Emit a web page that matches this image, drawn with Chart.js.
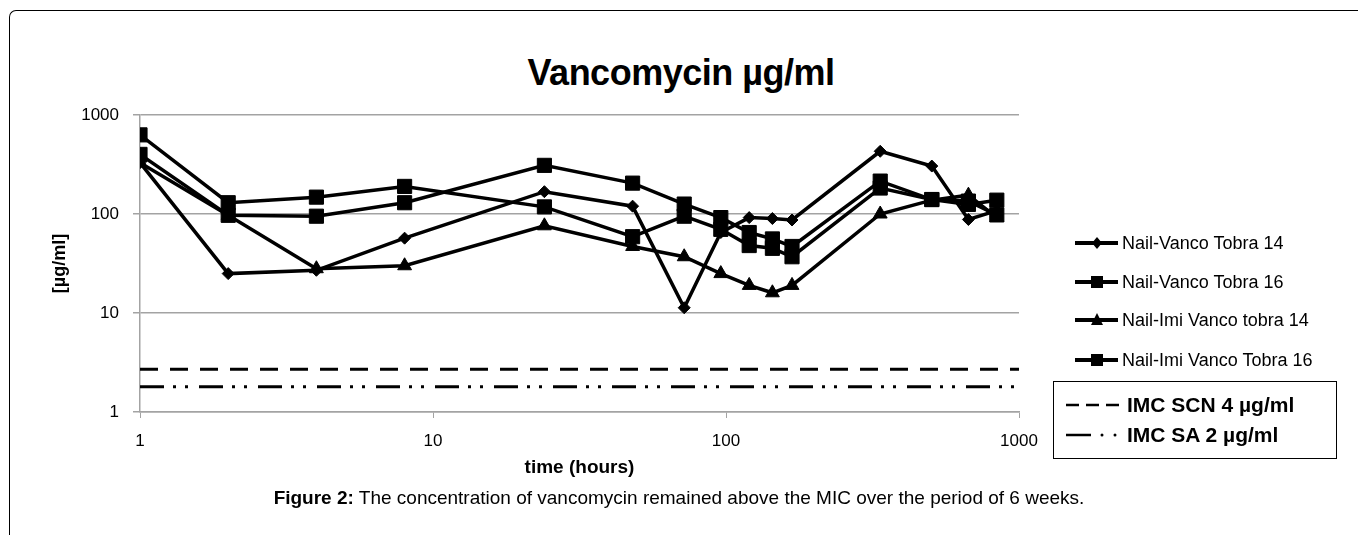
<!DOCTYPE html>
<html>
<head>
<meta charset="utf-8">
<script src="https://cdn.jsdelivr.net/npm/chart.js@4.4.1/dist/chart.umd.min.js"></script>
<style>
  body { margin: 0; background: #fff; font-family: "Liberation Sans", Arial, sans-serif; }
  #page { position: relative; width: 1358px; height: 535px; overflow: hidden; }
  #frame { position: absolute; left: 9px; top: 10px; width: 1400px; height: 600px;
           border-left: 1.5px solid #000; border-top: 1.5px solid #000; border-top-left-radius: 7px; }
  #chartBox { position: absolute; left: 0; top: 0; width: 1358px; height: 535px; }
  #title { position: absolute; left: 0; width: 1362px; top: 52px; text-align: center;
           font: bold 36px "Liberation Sans", Arial, sans-serif; letter-spacing: -0.5px; }
  .leg { position: absolute; left: 1075px; height: 24px; font-size: 18px; line-height: 24px; white-space: nowrap; }
  .leg svg { position: absolute; left: 0; top: 0; }
  .leg span { position: absolute; left: 47px; top: 0; }
  #micBox { position: absolute; left: 1053px; top: 381px; width: 282px; height: 76px; border: 1.5px solid #000; }
  .mic { position: absolute; left: 10px; height: 26px; font: bold 21px "Liberation Sans", Arial, sans-serif; line-height: 26px; white-space: nowrap; }
  .mic svg { position: absolute; left: 0; top: 0; }
  .mic span { position: absolute; left: 63px; top: 0; }
  #caption { position: absolute; left: 0; width: 1358px; top: 487px; text-align: center; font-size: 19px; }
</style>
</head>
<body>
<div id="page">
  <div id="frame"></div>
  <div id="title">Vancomycin µg/ml</div>
  <div id="chartBox"><canvas id="chart"></canvas></div>

  <div class="leg" style="top:231px">
    <svg width="44" height="24"><line x1="0" y1="12" x2="43" y2="12" stroke="#000" stroke-width="4"/><polygon points="22,6 27,12 22,18 17,12" fill="#000"/></svg>
    <span>Nail-Vanco Tobra 14</span>
  </div>
  <div class="leg" style="top:270px">
    <svg width="44" height="24"><line x1="0" y1="12" x2="43" y2="12" stroke="#000" stroke-width="4"/><rect x="16" y="6" width="12" height="12" fill="#000"/></svg>
    <span>Nail-Vanco Tobra 16</span>
  </div>
  <div class="leg" style="top:308px">
    <svg width="44" height="24"><line x1="0" y1="12" x2="43" y2="12" stroke="#000" stroke-width="4"/><polygon points="22,5 28,17 16,17" fill="#000"/></svg>
    <span>Nail-Imi Vanco tobra 14</span>
  </div>
  <div class="leg" style="top:348px">
    <svg width="44" height="24"><line x1="0" y1="12" x2="43" y2="12" stroke="#000" stroke-width="4"/><rect x="16" y="6" width="12" height="12" fill="#000"/></svg>
    <span>Nail-Imi Vanco Tobra 16</span>
  </div>

  <div id="micBox">
    <div class="mic" style="top:10px">
      <svg width="56" height="26"><line x1="2" y1="13" x2="55" y2="13" stroke="#000" stroke-width="2.5" stroke-dasharray="13,7"/></svg>
      <span>IMC SCN 4 µg/ml</span>
    </div>
    <div class="mic" style="top:40px">
      <svg width="56" height="26"><line x1="2" y1="13" x2="27" y2="13" stroke="#000" stroke-width="2.5"/><circle cx="38" cy="13" r="1.5" fill="#000"/><circle cx="51" cy="13" r="1.5" fill="#000"/></svg>
      <span>IMC SA 2 µg/ml</span>
    </div>
  </div>

  <div id="caption"><b>Figure 2:</b> The concentration of vancomycin remained above the MIC over the period of 6 weeks.</div>
</div>

<script>
  // sampling times (hours) and measured concentrations (µg/ml)
  const hours = [1, 2, 4, 8, 24, 48, 72, 96, 120, 144, 168, 336, 504, 672, 840];
  const nailVancoTobra14 = [330, 25, 27, 57, 168, 120, 11.3, 65, 92, 90, 87, 430, 305, 88, 108];
  const nailVancoTobra16 = [630, 130, 148, 190, 118, 59, 95, 70, 48, 45, 37, 183, 140, 125, 138];
  const nailImiVancoTobra14 = [330, 97, 28, 30, 76, 47, 37, 25, 19, 16, 19, 100, 138, 155, 92];
  const nailImiVancoTobra16 = [400, 97, 95, 130, 310, 205, 126, 92, 65, 56, 47, 215, 140, 135, 98];

  // MIC reference lines
  const micHours = [1, 1000];
  const micScn = [2.7, 2.7];
  const micSa = [1.8, 1.8];

  const xTicks = [1, 10, 100, 1000];
  const yTicks = [1, 10, 100, 1000];

  const pts = (xs, ys) => xs.map((x, i) => ({ x: x, y: ys[i] }));

  const series = (label, values, style, radius) => ({
    label: label,
    data: pts(hours, values),
    borderColor: '#000',
    backgroundColor: '#000',
    borderWidth: 3.5,
    pointStyle: style,
    pointRadius: radius,
    pointBackgroundColor: '#000',
    pointBorderColor: '#000',
    pointBorderWidth: 1,
    tension: 0
  });

  const gridGray = '#a3a3a3';

  new Chart(
    document.getElementById('chart'),
    {
      type: 'line',
      data: {
        datasets: [
          series('Nail-Vanco Tobra 14', nailVancoTobra14, 'rectRot', 6),
          series('Nail-Vanco Tobra 16', nailVancoTobra16, 'rect', 10),
          series('Nail-Imi Vanco tobra 14', nailImiVancoTobra14, 'triangle', 8),
          series('Nail-Imi Vanco Tobra 16', nailImiVancoTobra16, 'rect', 10),
          {
            label: 'IMC SCN 4 µg/ml',
            data: pts(micHours, micScn),
            borderColor: '#000',
            borderWidth: 3,
            borderDash: [18, 12],
            pointRadius: 0
          },
          {
            label: 'IMC SA 2 µg/ml',
            data: pts(micHours, micSa),
            borderColor: '#000',
            borderWidth: 3,
            borderDash: [24, 9, 3, 9, 3, 11],
            pointRadius: 0
          }
        ]
      },
      options: {
        responsive: true,
        maintainAspectRatio: false,
        animation: false,
        layout: {
          padding: { left: 40, right: 339, top: 115, bottom: 53 }
        },
        plugins: {
          legend: { display: false },
          tooltip: { enabled: false }
        },
        scales: {
          x: {
            type: 'logarithmic',
            min: 1,
            max: 1000,
            afterBuildTicks: (scale) => { scale.ticks = xTicks.map(v => ({ value: v })); },
            afterFit: (scale) => { scale.height = 70; },
            grid: { drawOnChartArea: false, color: gridGray, tickLength: 6 },
            border: { color: gridGray, width: 1.5 },
            ticks: {
              color: '#000',
              padding: 13,
              maxRotation: 0,
              font: { family: 'Liberation Sans', size: 17 },
              callback: (value) => String(value)
            },
            title: {
              display: true,
              text: 'time (hours)',
              color: '#000',
              padding: { top: 0, bottom: 3 },
              font: { family: 'Liberation Sans', size: 19, weight: 'bold' }
            }
          },
          y: {
            type: 'logarithmic',
            min: 1,
            max: 1000,
            afterBuildTicks: (scale) => { scale.ticks = yTicks.map(v => ({ value: v })); },
            afterFit: (scale) => { scale.width = 100; },
            grid: { color: gridGray, lineWidth: 1.5, tickLength: 7 },
            border: { color: gridGray, width: 1.5 },
            ticks: {
              color: '#000',
              padding: 14,
              font: { family: 'Liberation Sans', size: 17 },
              callback: (value) => String(value)
            },
            title: {
              display: true,
              text: '[µg/ml]',
              color: '#000',
              padding: { top: 9, bottom: 0 },
              font: { family: 'Liberation Sans', size: 18, weight: 'bold' }
            }
          }
        }
      }
    }
  );
</script>
</body>
</html>
